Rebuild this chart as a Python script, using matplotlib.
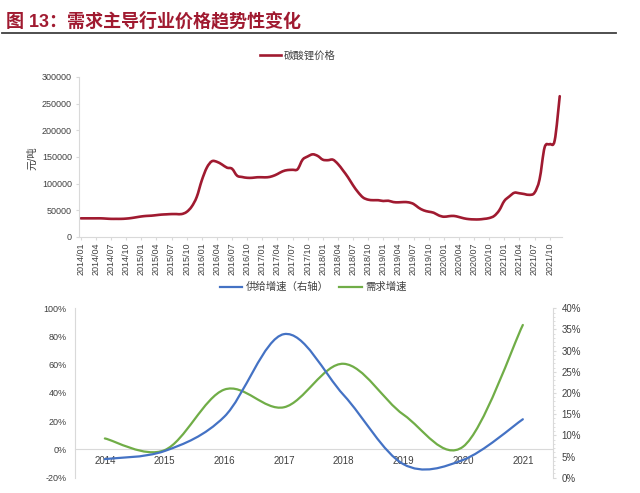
import numpy as np
import matplotlib
matplotlib.use("Agg")
import matplotlib.pyplot as plt
from matplotlib.path import Path
from matplotlib.patches import PathPatch
from matplotlib.lines import Line2D
from matplotlib.ticker import FuncFormatter, MultipleLocator

plt.rcParams['font.family'] = ['Liberation Sans', 'Noto Sans CJK SC', 'DejaVu Sans']

# monthly lithium carbonate price, 2014/01 - 2021/12 (yuan/ton)
price = [
    35000, 35000, 35000, 35000, 35000, 34500, 34000, 34000, 34000, 34500, 35500, 37000,
    38500, 39500, 40000, 41000, 42000, 42500, 43000, 43000, 43000, 47000, 57000, 75000,
    106000, 130000, 142000, 141000, 136000, 130000, 128000, 115000, 112500, 111000, 111000, 112000,
    112000, 112000, 114000, 118000, 123000, 125500, 126000, 127000, 145000, 151000, 155000, 152000,
    145000, 144000, 145000, 137000, 125000, 112000, 97000, 84000, 74000, 70000, 69000, 69000,
    67500, 68000, 65500, 65000, 65500, 65000, 62000, 55000, 50000, 47500, 45500, 40500,
    38000, 39000, 39500, 37500, 35000, 33500, 33000, 33000, 34000, 35500, 39500, 50000,
    67500, 76000, 83000, 82000, 80500, 79000, 83000, 108000, 168000, 174000, 181000, 264000,
]
months = [f"{y}/{m:02d}" for y in range(2014, 2022) for m in range(1, 13)]

years = ["2014", "2015", "2016", "2017", "2018", "2019", "2020", "2021"]
demand_growth = [7.8, -0.5, 42.4, 29.9, 60.7, 24.7, 2.0, 88.2]   # left axis, %
supply_growth = [4.4, 6.3, 14.4, 33.9, 19.5, 3.2, 4.2, 13.8]     # right axis, %

RED = "#A01A30"
BLUE = "#4472C4"
GREEN = "#70AD47"
GRID = "#D9D9D9"
TXT = "#404040"


def smooth_path(x, y):
    # excel-like smoothed line: cubic bezier through every data point
    x = np.asarray(x, float)
    y = np.asarray(y, float)
    n = len(x)
    verts = [(x[0], y[0])]
    codes = [Path.MOVETO]
    for i in range(n - 1):
        a = max(i - 1, 0)
        b = min(i + 2, n - 1)
        c1 = (x[i] + (x[i + 1] - x[a]) / 6, y[i] + (y[i + 1] - y[a]) / 6)
        c2 = (x[i + 1] - (x[b] - x[i]) / 6, y[i + 1] - (y[b] - y[i]) / 6)
        verts += [c1, c2, (x[i + 1], y[i + 1])]
        codes += [Path.CURVE4] * 3
    return Path(verts, codes)


fig = plt.figure(figsize=(6.4, 4.93), dpi=100)
W, H = 640, 493

# title + rule
fig.text(6 / W, 1 - 21 / H, "图 13：需求主导行业价格趋势性变化", fontsize=13,
         fontweight="bold", color=RED, va="center", ha="left")
fig.add_artist(Line2D([2 / W, 616 / W], [1 - 33 / H] * 2, color="#404040", lw=1.3))

# ---- top: price ----
ax1 = fig.add_axes([79 / W, 1 - 237 / H, 483 / W, 160 / H])
xm = np.arange(len(price))
ax1.add_patch(PathPatch(smooth_path(xm, price), facecolor="none", edgecolor=RED,
                        lw=1.9, capstyle="round", joinstyle="round"))
ax1.set_xlim(-0.35, 95.45)
ax1.set_ylim(0, 300000)
ax1.yaxis.set_major_locator(MultipleLocator(50000))
ax1.yaxis.set_major_formatter(FuncFormatter(lambda v, p: f"{v:.0f}"))
ax1.set_xticks(xm[::3])
ax1.set_xticklabels(months[::3], rotation=90)
for s in ["top", "right"]:
    ax1.spines[s].set_visible(False)
for s in ["left", "bottom"]:
    ax1.spines[s].set_color(GRID)
    ax1.spines[s].set_linewidth(0.8)
ax1.tick_params(axis="both", colors=GRID, labelcolor=TXT, length=2.5, width=0.8, labelsize=6.5)
ax1.tick_params(axis="x", pad=1.5)
ax1.tick_params(axis="y", pad=2.5)
fig.text(32 / W, 1 - 158 / H, "元/吨", rotation=90, fontsize=7.5, color=TXT,
         ha="center", va="center")
h1 = Line2D([], [], color=RED, lw=1.9)
fig.legend([h1], ["碳酸锂价格"], loc="center", bbox_to_anchor=(298 / W, 1 - 56 / H),
           frameon=False, fontsize=7.5, handlelength=2.0, handletextpad=0.3,
           labelcolor=TXT)

# ---- bottom: growth ----
ax2 = fig.add_axes([75 / W, 1 - 477.7 / H, 477.7 / W, 169.4 / H])
ax3 = ax2.twinx()
xy = np.arange(len(years))
ax2.add_patch(PathPatch(smooth_path(xy, demand_growth), facecolor="none", edgecolor=GREEN,
                        lw=1.6, capstyle="round", joinstyle="round", zorder=3))
ax3.add_patch(PathPatch(smooth_path(xy, supply_growth), facecolor="none", edgecolor=BLUE,
                        lw=1.6, capstyle="round", joinstyle="round", zorder=3))
ax2.set_xlim(-0.5, len(years) - 0.5)
ax2.set_ylim(-20, 100)
ax3.set_ylim(0, 40)
ax2.yaxis.set_major_locator(MultipleLocator(20))
ax3.yaxis.set_major_locator(MultipleLocator(5))
ax3.yaxis.set_minor_locator(MultipleLocator(1))
pct = FuncFormatter(lambda v, p: f"{v:.0f}%")
ax2.yaxis.set_major_formatter(pct)
ax3.yaxis.set_major_formatter(pct)
ax2.set_xticks(xy)
ax2.set_xticklabels(years)
ax2.spines["bottom"].set_position(("data", 0))
for s in ["top", "right"]:
    ax2.spines[s].set_visible(False)
for s in ["top", "left", "bottom"]:
    ax3.spines[s].set_visible(False)
ax2.spines["left"].set_color(GRID)
ax2.spines["bottom"].set_color(GRID)
ax3.spines["right"].set_color(GRID)
for s in [ax2.spines["left"], ax2.spines["bottom"], ax3.spines["right"]]:
    s.set_linewidth(0.8)
ax2.tick_params(axis="y", length=0, pad=6, labelsize=6.5, labelcolor=TXT)
ax2.tick_params(axis="x", length=0, pad=5, labelsize=7, labelcolor=TXT)
ax3.tick_params(axis="y", which="major", length=2.5, width=0.8, colors=GRID,
                labelcolor=TXT, labelsize=7, pad=4)
ax3.tick_params(axis="y", which="minor", length=1.5, width=0.6, colors=GRID)
hb = Line2D([], [], color=BLUE, lw=1.6)
hg = Line2D([], [], color=GREEN, lw=1.6)
fig.legend([hb, hg], ["供给增速（右轴）", "需求增速"], loc="center", ncol=2,
           bbox_to_anchor=(313 / W, 1 - 287 / H), frameon=False, fontsize=7.5,
           handlelength=2.2, handletextpad=0.3, columnspacing=1.0, labelcolor=TXT)

fig.savefig("out.png", dpi=100)
